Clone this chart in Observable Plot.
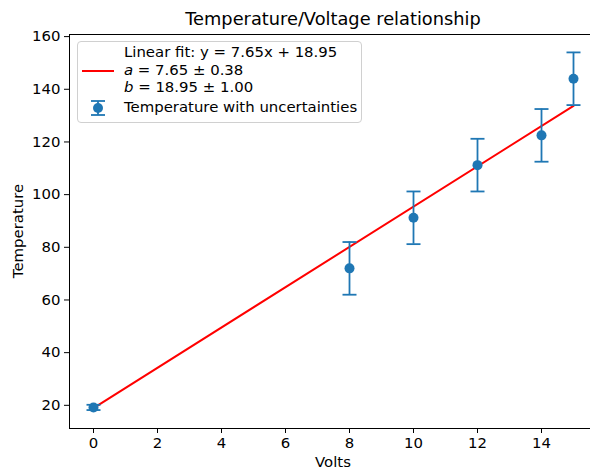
<!DOCTYPE html>
<html>
<head>
<meta charset="utf-8">
<script src="https://cdn.jsdelivr.net/npm/d3@7"></script>
<script src="https://cdn.jsdelivr.net/npm/@observablehq/plot@0.6"></script>
<style>
  html, body { margin: 0; padding: 0; background: #fff; overflow: hidden; }
  #wrap { position: relative; width: 590px; height: 469px; overflow: hidden; font-family: "DejaVu Sans", sans-serif; color: #000; }
  #wrap svg { position: absolute; left: 0; top: 0; max-width: none !important; }
  .ov { position: absolute; white-space: nowrap; font-size: 14.9px; line-height: 1; }
</style>
</head>
<body>
<div id="wrap"></div>
<script>
// ---- data ----
const volts = [0, 8, 10, 12, 14, 15];
const temperature = [19.2, 72, 91.2, 111.2, 122.5, 144];
const uncertainty = [1, 10, 10, 10, 10, 10];
const fitSlope = 7.65;
const fitIntercept = 18.95;
const fitRange = [0, 15];
const xTicks = [0, 2, 4, 6, 8, 10, 12, 14];
const yTicks = [20, 40, 60, 80, 100, 120, 140, 160];
const titleText = "Temperature/Voltage relationship";
const xLabel = "Volts";
const yLabel = "Temperature";
const legendFit = ["Linear fit: y = 7.65x + 18.95", "= 7.65 ± 0.38", "= 18.95 ± 1.00"];
const legendData = "Temperature with uncertainties";

const points = volts.map((v, i) => ({x: v, y: temperature[i], lo: temperature[i] - uncertainty[i], hi: temperature[i] + uncertainty[i]}));
const fitLine = fitRange.map(x => ({x, y: fitSlope * x + fitIntercept}));

const blue = "#1f77b4";
const capSymbol = { draw(ctx, size) { const w = Math.sqrt(size / Math.PI); ctx.moveTo(-w, 0); ctx.lineTo(w, 0); } };

const chart = Plot.plot({
  width: 598,
  height: 469,
  marginLeft: 69,
  marginRight: 1,
  marginTop: 34,
  marginBottom: 41,
  style: { fontFamily: "DejaVu Sans, sans-serif", fontSize: "14.9px", color: "#000", background: "transparent", maxWidth: "none" },
  x: { domain: [-0.75, 15.75], ticks: xTicks, tickSize: 5, tickPadding: 4, label: null, tickFormat: d => String(d) },
  y: { domain: [11.2, 160.8], ticks: yTicks, tickSize: 5, tickPadding: 4, label: null, tickFormat: d => String(d) },
  marks: [
    Plot.line(fitLine, { x: "x", y: "y", stroke: "red", strokeWidth: 2 }),
    Plot.ruleX(points, { x: "x", y1: "lo", y2: "hi", stroke: blue, strokeWidth: 1.8 }),
    Plot.dot(points, { x: "x", y: "lo", symbol: capSymbol, r: 7, stroke: blue, strokeWidth: 1.8, fill: "none" }),
    Plot.dot(points, { x: "x", y: "hi", symbol: capSymbol, r: 7, stroke: blue, strokeWidth: 1.8, fill: "none" }),
    Plot.dot(points, { x: "x", y: "y", r: 5, fill: blue, stroke: "none" }),
    Plot.frame({ stroke: "#000", strokeWidth: 1 })
  ]
});
const wrap = document.getElementById("wrap");
wrap.appendChild(chart);

function addDiv(html, css) {
  const d = document.createElement("div");
  d.className = "ov";
  d.innerHTML = html;
  Object.assign(d.style, css);
  wrap.appendChild(d);
  return d;
}
// title
addDiv(titleText, { left: "333px", top: "10px", fontSize: "17.8px", transform: "translateX(-50%)" });
// axis labels
addDiv(xLabel, { left: "333px", top: "455px", transform: "translateX(-50%)" });
addDiv(yLabel, { left: "18px", top: "231px", transform: "translate(-50%,-50%) rotate(-90deg)" });

// legend
const legend = document.createElement("div");
Object.assign(legend.style, { position: "absolute", left: "77px", top: "41px", width: "283px", height: "80px",
  border: "1px solid #d0d0d0", borderRadius: "4px", background: "rgba(255,255,255,0.8)" });
wrap.appendChild(legend);
addDiv(legendFit[0], { left: "124px", top: "45px" });
addDiv("<i>a</i> " + legendFit[1], { left: "124px", top: "63px" });
addDiv("<i>b</i> " + legendFit[2], { left: "124px", top: "80px" });
addDiv(legendData, { left: "124px", top: "100px" });
const ls = document.createElementNS("http://www.w3.org/2000/svg", "svg");
ls.setAttribute("width", "590"); ls.setAttribute("height", "469");
ls.style.position = "absolute"; ls.style.left = "0"; ls.style.top = "0";
ls.innerHTML = `
  <line x1="82" x2="114" y1="71" y2="71" stroke="red" stroke-width="2"/>
  <line x1="98" x2="98" y1="101" y2="115" stroke="${blue}" stroke-width="1.8"/>
  <line x1="91" x2="105" y1="101" y2="101" stroke="${blue}" stroke-width="1.8"/>
  <line x1="91" x2="105" y1="115" y2="115" stroke="${blue}" stroke-width="1.8"/>
  <circle cx="98" cy="108" r="5" fill="${blue}"/>`;
wrap.appendChild(ls);
</script>
</body>
</html>
